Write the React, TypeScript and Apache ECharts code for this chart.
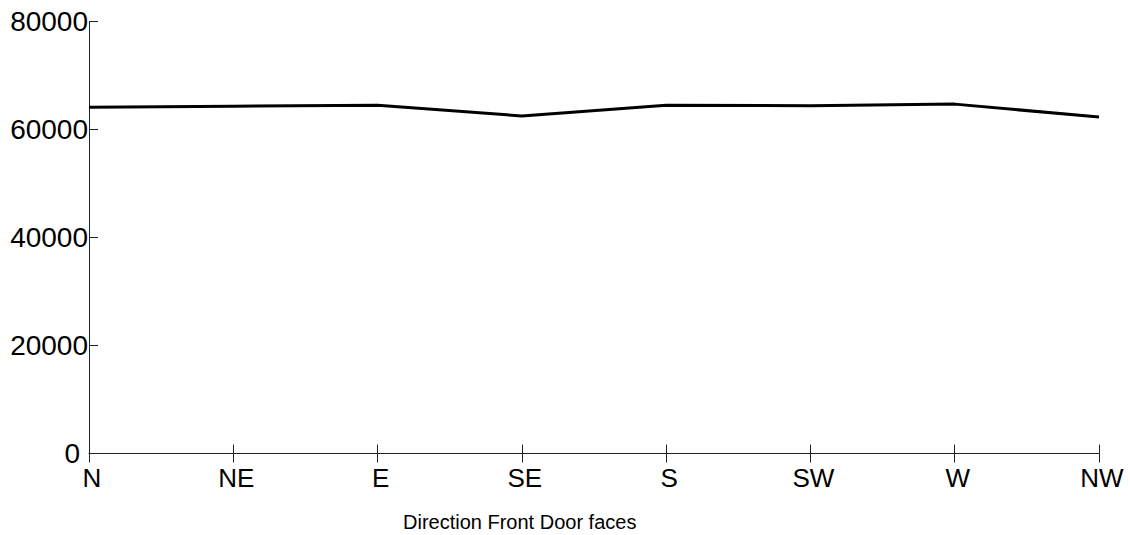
import React, { useEffect, useRef } from "react";
import * as echarts from "echarts";

const categories = ["N", "NE", "E", "SE", "S", "SW", "W", "NW"];
const values = [64100, 64300, 64500, 62500, 64500, 64400, 64700, 62300];
const yTicks = [0, 20000, 40000, 60000, 80000];
const xAxisTitle = "Direction Front Door faces";

export default function App() {
  const ref = useRef<HTMLDivElement>(null);
  useEffect(() => {
    if (!ref.current) return;
    const chart = echarts.init(ref.current, null, { renderer: "svg" });
    const font = "'Liberation Sans', Arial, sans-serif";
    chart.setOption({
      animation: false,
      backgroundColor: "#ffffff",
      grid: { left: 89, right: 31, top: 21.5, bottom: 81.5, containLabel: false },
      xAxis: [
        {
          type: "category",
          data: categories,
          boundaryGap: false,
          position: "bottom",
          axisLine: { show: true, lineStyle: { color: "#222", width: 1 } },
          axisTick: { show: true, inside: false, length: 9, lineStyle: { color: "#222" } },
          axisLabel: {
            color: "#000",
            fontSize: 26,
            lineHeight: 20,
            fontFamily: font,
            margin: 14,
            padding: [0, 0, 0, 6],
          },
          splitLine: { show: false },
        },
        {
          type: "category",
          data: categories,
          boundaryGap: false,
          position: "bottom",
          axisLine: { show: false },
          axisTick: { show: true, inside: true, length: 9, lineStyle: { color: "#222" } },
          axisLabel: { show: false },
          splitLine: { show: false },
        },
      ],
      yAxis: {
        type: "value",
        min: yTicks[0],
        max: yTicks[yTicks.length - 1],
        interval: yTicks[1] - yTicks[0],
        axisLine: { show: true, lineStyle: { color: "#222", width: 1 } },
        axisTick: { show: true, inside: true, length: 9, lineStyle: { color: "#222" } },
        axisLabel: {
          color: "#000",
          fontSize: 28,
          lineHeight: 20,
          fontFamily: font,
          margin: 1,
          formatter: (v: number) => (v === 0 ? "{z|0}" : String(v)),
          rich: {
            z: {
              fontSize: 28,
              lineHeight: 20,
              fontFamily: font,
              color: "#000",
              padding: [0, 8, 0, 0],
            },
          },
        },
        splitLine: { show: false },
      },
      graphic: [
        {
          type: "text",
          left: 403,
          top: 512,
          style: { text: xAxisTitle, fill: "#000", fontSize: 20, fontFamily: font },
        },
      ],
      series: [
        {
          type: "line",
          data: values,
          showSymbol: false,
          symbol: "none",
          lineStyle: { color: "#000", width: 3 },
        },
      ],
    });
    return () => chart.dispose();
  }, []);
  return (
    <div
      ref={ref}
      style={{ position: "fixed", left: 0, top: 0, width: 1130, height: 535 }}
    />
  );
}
